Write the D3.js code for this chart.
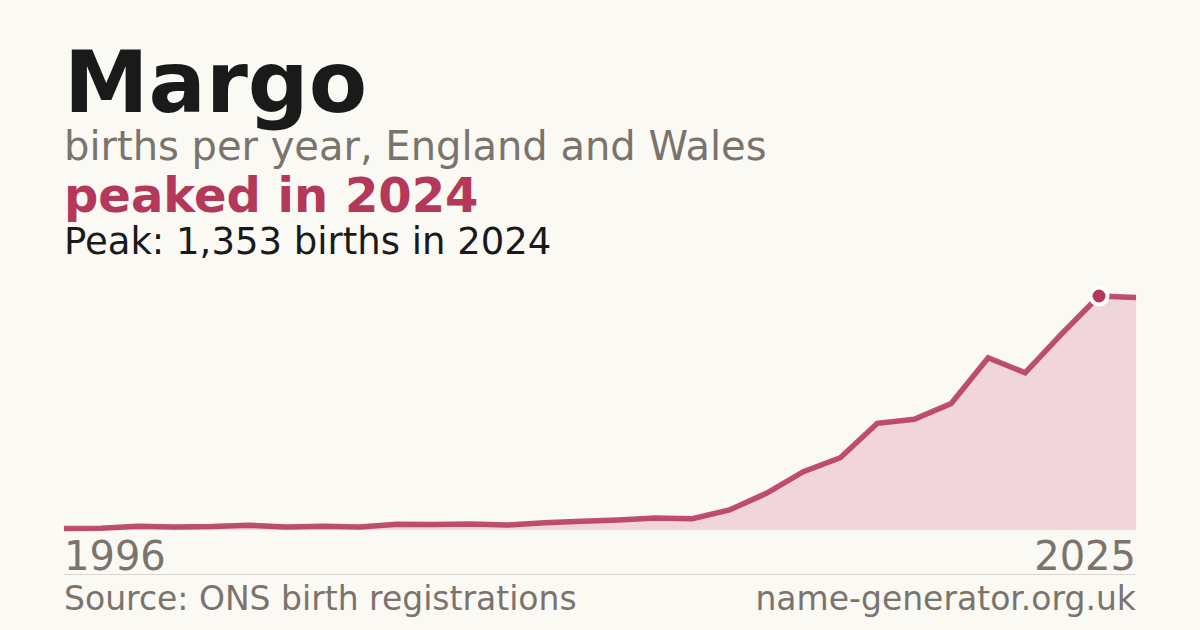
<!DOCTYPE html>
<html><head><meta charset="utf-8">
<script src="https://cdn.jsdelivr.net/npm/d3@7"></script>
<style>
html,body{margin:0;padding:0;background:#faf9f4;}
svg{display:block;}
text{font-family:"DejaVu Sans",sans-serif;}
</style></head>
<body>
<svg id="c" width="1200" height="630"></svg>
<script>
const years = d3.range(1996, 2026);
const births = [8, 10, 22, 17, 20, 28, 17, 21, 17, 33, 32, 35, 29, 42, 50, 58, 69, 65, 116, 212, 337, 418, 617, 640, 732, 996, 909, 1137, 1353, 1345];
const axisLabels = ["1996", "2025"];
const peakYear = 2024;
const peakValue = 1353;

const svg = d3.select("#c");
svg.append("rect").attr("width",1200).attr("height",630).attr("fill","#faf9f4");

const data = years.map((y,i)=>({year:y, v:births[i]}));
const x = d3.scaleLinear().domain([1996, 2025]).range([64, 1136]);
const y = d3.scaleLinear().domain([0, peakValue]).range([530, 296]);

svg.append("path").datum(data)
  .attr("d", d3.area().x(d=>x(d.year)).y0(y(0)).y1(d=>y(d.v)))
  .attr("fill","#f0d5da");
svg.append("path").datum(data)
  .attr("d", d3.line().x(d=>x(d.year)).y(d=>y(d.v)))
  .attr("fill","none").attr("stroke","#b5375a").attr("stroke-width",5.5)
  .attr("stroke-opacity",0.88).attr("stroke-linejoin","miter");

svg.append("circle").attr("cx",x(peakYear)).attr("cy",y(peakValue)).attr("r",8.5)
  .attr("fill","#b3385a").attr("stroke","#ffffff").attr("stroke-width",4);

// texts
svg.append("text").attr("x",64).attr("y",112).attr("font-size",85).attr("font-weight","bold")
  .attr("fill","#1a1a1a").text("Margo");
svg.append("text").attr("x",64).attr("y",160).attr("font-size",40)
  .attr("fill","#7a746c").text("births per year, England and Wales");
svg.append("text").attr("x",64).attr("y",212).attr("font-size",48).attr("font-weight","bold")
  .attr("fill","#b3385a").text("peaked in " + peakYear);
svg.append("text").attr("x",64).attr("y",254).attr("font-size",37)
  .attr("fill","#1a1a1a").text("Peak: " + d3.format(",")(peakValue) + " births in " + peakYear);

// year labels
svg.append("text").attr("x",x(1996)).attr("y",570).attr("font-size",40)
  .attr("fill","#7a746c").text(axisLabels[0]);
svg.append("text").attr("x",x(2025)).attr("y",570).attr("font-size",40).attr("text-anchor","end")
  .attr("fill","#7a746c").text(axisLabels[1]);

svg.append("line").attr("x1",64).attr("x2",1136).attr("y1",574.5).attr("y2",574.5)
  .attr("stroke","#dcd8d1").attr("stroke-width",1);

svg.append("text").attr("x",64).attr("y",610).attr("font-size",33)
  .attr("fill","#7a746c").text("Source: ONS birth registrations");
svg.append("text").attr("x",1136).attr("y",610).attr("font-size",33).attr("text-anchor","end")
  .attr("fill","#7a746c").text("name-generator.org.uk");
</script>
</body></html>
